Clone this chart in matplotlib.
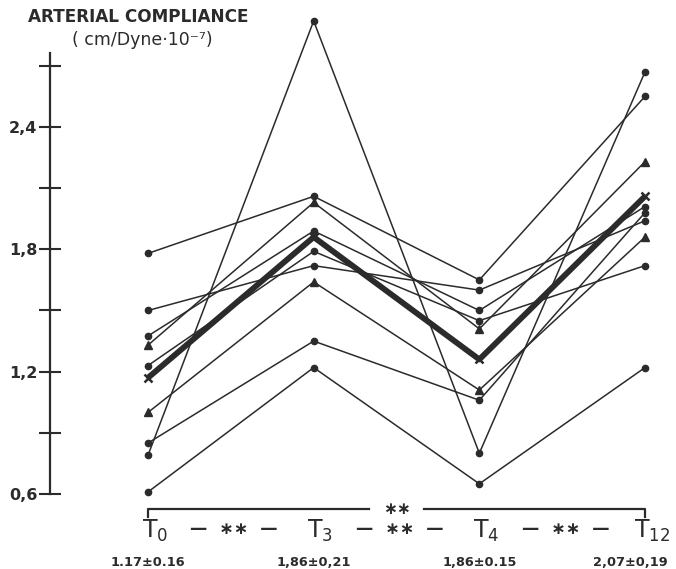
import matplotlib
matplotlib.use("Agg")
import matplotlib.pyplot as plt
import matplotlib.transforms as mtransforms
from matplotlib.lines import Line2D

# ---- data ----
times = ["T$_0$", "T$_3$", "T$_4$", "T$_{12}$"]
summary = ["1.17±0.16", "1,86±0,21", "1,86±0.15", "2,07±0,19"]
series_a = [1.78, 2.06, 1.65, 2.55]
series_b = [1.33, 2.03, 1.41, 2.23]
series_c = [1.375, 1.89, 1.50, 2.01]
series_d = [1.23, 1.79, 1.45, 1.72]
series_e = [1.50, 1.72, 1.60, 1.94]
series_f = [1.00, 1.64, 1.11, 1.86]
series_g = [0.85, 1.35, 1.06, 1.98]
series_h = [0.79, 2.92, 0.80, 2.67]
series_i = [0.61, 1.22, 0.65, 1.22]
mean_series = [1.17, 1.86, 1.26, 2.06]
yticks_major = [0.6, 1.2, 1.8, 2.4]
yticks_minor = [0.9, 1.5, 2.1, 2.7]
ytick_labels = ["0,6", "1,2", "1,8", "2,4"]

W, H = 676, 569
fig = plt.figure(figsize=(W / 100, H / 100), dpi=100)
fig.patch.set_facecolor("white")

def fx(px):
    return px / W

def fy(py):
    return 1 - py / H

ax = fig.add_axes([fx(50), fy(494), fx(620), (494 - 53) / H])
x = list(range(len(times)))
px_per_unit = (645 - 148) / 3
ax.set_xlim(-98 / px_per_unit, 3 + 25 / px_per_unit)
ax.set_ylim(0.6, 0.6 + (494 - 53) / 203.9)

ink = "#2b2b2b"
patients = [
    (series_a, "o"), (series_b, "^"), (series_c, "o"), (series_d, "o"),
    (series_e, "o"), (series_f, "^"), (series_g, "o"), (series_h, "o"),
    (series_i, "o"),
]
for vals, mk in patients:
    ax.plot(x, vals, color=ink, lw=1.1, marker=mk,
            markersize=4.5 if mk == "o" else 6, clip_on=False, zorder=3)
ax.plot(x, mean_series, color=ink, lw=4.2, marker="x", markersize=6,
        markeredgewidth=1.8, clip_on=False, zorder=4, solid_capstyle="butt")

for s in ["top", "right", "bottom"]:
    ax.spines[s].set_visible(False)
ax.spines["left"].set_linewidth(1.6)
ax.spines["left"].set_color(ink)
ax.set_xticks([])
ax.set_yticks(yticks_major)
ax.set_yticklabels(ytick_labels, fontsize=11.5, fontweight="bold", color=ink)
ax.set_yticks(yticks_minor, minor=True)
ax.tick_params(axis="y", which="both", direction="inout", length=16,
               width=1.5, color=ink, pad=1)

# titles
fig.text(fx(28), fy(17), "ARTERIAL COMPLIANCE", fontsize=12.2,
         fontweight="bold", color=ink, ha="left", va="center")
fig.text(fx(72), fy(40), "( cm/Dyne·10⁻⁷)", fontsize=12.5,
         color=ink, ha="left", va="center")

# bottom bracket and labels
bt = mtransforms.blended_transform_factory(ax.transData, fig.transFigure)
yb, yb2 = fy(509), fy(517)
gapL, gapR = (369 - 148) / px_per_unit, (424 - 148) / px_per_unit
fig.add_artist(Line2D([x[0], x[0], gapL], [yb2, yb, yb], transform=bt,
                      color=ink, lw=1.6))
fig.add_artist(Line2D([gapR, x[-1], x[-1]], [yb, yb, yb2], transform=bt,
                      color=ink, lw=1.6))
ax.text((x[0] + x[-1]) / 2, fy(509), "∗∗", transform=bt, ha="center",
        va="center", fontsize=12, fontweight="bold", color=ink)

for xi, lab, sm in zip(x, times, summary):
    ax.text(xi + 0.04, fy(531), lab, transform=bt, ha="center", va="center",
            fontsize=17, color=ink)
    ax.text(xi - (0.09 if xi == x[-1] else 0), fy(562), sm, transform=bt,
            ha="center", va="center", fontsize=9.3, fontweight="bold",
            color=ink)
for xa, xb in zip(x[:-1], x[1:]):
    ax.text((xa + xb) / 2 + 0.02, fy(529), "—  ∗∗  —", transform=bt,
            ha="center", va="center", fontsize=12.5, fontweight="bold",
            color=ink)

fig.savefig("out.png", dpi=100, facecolor="white")
